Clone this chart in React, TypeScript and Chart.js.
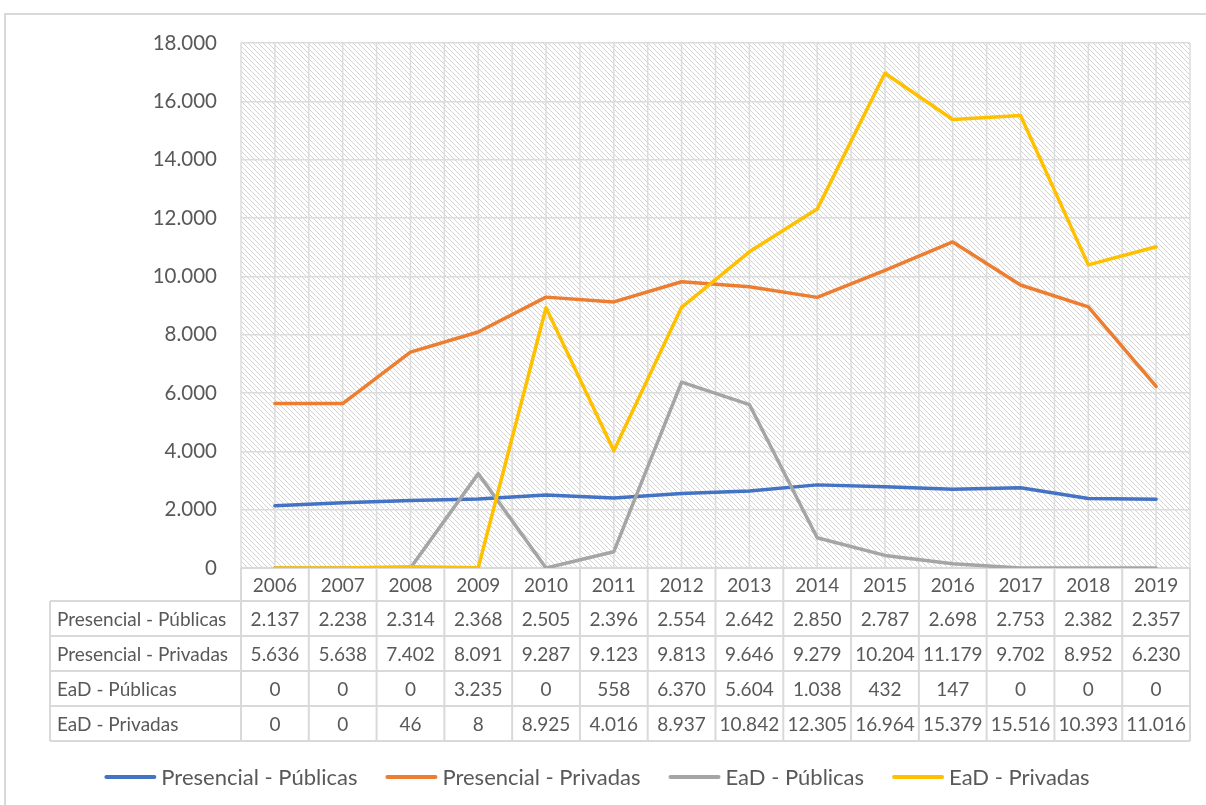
import { useEffect, useRef } from "react";
import { Chart, registerables } from "chart.js";

Chart.register(...registerables);

// Categories and series values
const years = ["2006", "2007", "2008", "2009", "2010", "2011", "2012", "2013", "2014", "2015", "2016", "2017", "2018", "2019"];
const presencialPublicas = [2137, 2238, 2314, 2368, 2505, 2396, 2554, 2642, 2850, 2787, 2698, 2753, 2382, 2357];
const presencialPrivadas = [5636, 5638, 7402, 8091, 9287, 9123, 9813, 9646, 9279, 10204, 11179, 9702, 8952, 6230];
const eadPublicas = [0, 0, 0, 3235, 0, 558, 6370, 5604, 1038, 432, 147, 0, 0, 0];
const eadPrivadas = [0, 0, 46, 8, 8925, 4016, 8937, 10842, 12305, 16964, 15379, 15516, 10393, 11016];

const seriesNames = ["Presencial - Públicas", "Presencial - Privadas", "EaD - Públicas", "EaD - Privadas"];
const seriesValues = [presencialPublicas, presencialPrivadas, eadPublicas, eadPrivadas];
const seriesColors = ["#4472C4", "#ED7D31", "#A5A5A5", "#FFC000"];

// Value axis
const yMin = 0;
const yMax = 18000;
const yStep = 2000;

const FONT = "Lato";
const TEXT = "#595959";
const RULE = "#D9D9D9";
const GRID = "#DCDCDC";

const fmt = (v: number) => String(v).replace(/\B(?=(\d{3})+(?!\d))/g, ".");

function makeHatch(ctx: CanvasRenderingContext2D): CanvasPattern | string {
  const tile = document.createElement("canvas");
  const n = 5;
  tile.width = n;
  tile.height = n;
  const t = tile.getContext("2d");
  if (!t) return "#fff";
  t.fillStyle = "#ffffff";
  t.fillRect(0, 0, n, n);
  t.fillStyle = "#D3D3D3";
  for (let i = 0; i < n; i++) t.fillRect(i, i, 1, 1);
  return ctx.createPattern(tile, "repeat") || "#fff";
}

const HEADER_H = 33;
const ROW_H = 35;
const LABEL_LEFT = 50;

const sheetPlugin = {
  id: "sheet",
  beforeDraw(chart: any) {
    const { ctx, chartArea: a, width, height } = chart;
    ctx.save();
    ctx.fillStyle = "#ffffff";
    ctx.fillRect(0, 0, width, height);
    // outer frame
    ctx.fillStyle = RULE;
    ctx.fillRect(4, 13, width - 4, 2);
    ctx.fillRect(4, 13, 2, height - 13);
    // patterned plot area
    ctx.fillStyle = makeHatch(ctx);
    ctx.fillRect(a.left, a.top, a.right - a.left, a.bottom - a.top);
    // vertical grid every half category
    const x = chart.scales.x;
    const step = x.getPixelForValue(1) - x.getPixelForValue(0);
    const left = x.getPixelForValue(0) - step / 2;
    ctx.strokeStyle = GRID;
    ctx.lineWidth = 1.5;
    for (let k = 0; k <= years.length * 2; k++) {
      const px = left + (k * step) / 2;
      ctx.beginPath();
      ctx.moveTo(px, a.top);
      ctx.lineTo(px, a.bottom);
      ctx.stroke();
    }
    ctx.restore();
  },
  beforeDatasetsDraw(chart: any) {
    const { ctx, chartArea: a } = chart;
    const x = chart.scales.x;
    const step = x.getPixelForValue(1) - x.getPixelForValue(0);
    const left = x.getPixelForValue(0) - step / 2;
    const right = left + step * years.length;
    const top = a.bottom;
    const rowTops = [top + HEADER_H];
    for (let r = 1; r <= seriesNames.length; r++) rowTops.push(top + HEADER_H + r * ROW_H);
    const bottom = rowTops[rowTops.length - 1];

    ctx.save();
    ctx.strokeStyle = RULE;
    ctx.lineWidth = 2;
    const hl = (x0: number, x1: number, y: number) => {
      ctx.beginPath();
      ctx.moveTo(x0, y);
      ctx.lineTo(x1, y);
      ctx.stroke();
    };
    const vl = (xx: number, y0: number, y1: number) => {
      ctx.beginPath();
      ctx.moveTo(xx, y0);
      ctx.lineTo(xx, y1);
      ctx.stroke();
    };
    hl(left, right, top);
    rowTops.forEach((y) => hl(LABEL_LEFT, right, y));
    for (let i = 0; i <= years.length; i++) vl(left + i * step, top, bottom);
    vl(LABEL_LEFT, rowTops[0], bottom);

    ctx.fillStyle = TEXT;
    ctx.textBaseline = "middle";
    ctx.font = `19px ${FONT}`;
    ctx.textAlign = "center";
    years.forEach((yr, i) => ctx.fillText(yr, x.getPixelForValue(i), top + HEADER_H / 2 + 1));
    seriesValues.forEach((vals, r) => {
      const cy = rowTops[r] + ROW_H / 2 + 1;
      vals.forEach((v, i) => ctx.fillText(fmt(v), x.getPixelForValue(i), cy));
    });
    ctx.textAlign = "left";
    seriesNames.forEach((name, r) => ctx.fillText(name, LABEL_LEFT + 7, rowTops[r] + ROW_H / 2 + 1));
    ctx.restore();
  },
  afterDraw(chart: any) {
    const { ctx } = chart;
    ctx.save();
    ctx.font = `22px ${FONT}`;
    const lineLen = 52;
    const gap = 5;
    const spacing = 28;
    const widths = seriesNames.map((n) => ctx.measureText(n).width);
    const total = widths.reduce((s, w) => s + lineLen + gap + w, 0) + spacing * (seriesNames.length - 1);
    let cx = 597 - total / 2;
    const ly = 777;
    ctx.textBaseline = "middle";
    ctx.textAlign = "left";
    seriesNames.forEach((name, i) => {
      ctx.strokeStyle = seriesColors[i];
      ctx.lineWidth = 4;
      ctx.lineCap = "round";
      ctx.beginPath();
      ctx.moveTo(cx + 2, ly);
      ctx.lineTo(cx + lineLen - 2, ly);
      ctx.stroke();
      ctx.fillStyle = TEXT;
      ctx.fillText(name, cx + lineLen + gap, ly + 1);
      cx += lineLen + gap + widths[i] + spacing;
    });
    ctx.restore();
  },
};

export default function App() {
  const ref = useRef<HTMLCanvasElement | null>(null);

  useEffect(() => {
    const canvas = ref.current;
    if (!canvas) return;
    const chart = new Chart(canvas, {
      type: "line",
      data: {
        labels: years,
        datasets: seriesNames.map((name, i) => ({
          label: name,
          data: seriesValues[i],
          borderColor: seriesColors[i],
          backgroundColor: seriesColors[i],
          borderWidth: 3.5,
          borderJoinStyle: "round" as const,
          borderCapStyle: "round" as const,
          pointRadius: 0,
          pointHoverRadius: 0,
          tension: 0,
          fill: false,
          order: seriesNames.length - i,
        })),
      },
      options: {
        responsive: false,
        animation: false,
        devicePixelRatio: 1,
        layout: { padding: { left: 0, top: 43, right: 16, bottom: 0 } },
        plugins: {
          legend: { display: false },
          tooltip: { enabled: false },
        },
        scales: {
          x: {
            type: "category",
            offset: true,
            grid: { display: false },
            border: { display: false },
            ticks: { display: false },
            afterFit: (scale: any) => {
              scale.height = 237;
            },
          },
          y: {
            min: yMin,
            max: yMax,
            border: { display: false },
            grid: { color: GRID, lineWidth: 1.5, drawTicks: false },
            ticks: {
              stepSize: yStep,
              padding: 24,
              color: TEXT,
              font: { family: FONT, size: 20.5 },
              callback: (v: any) => fmt(Number(v)),
            },
            afterFit: (scale: any) => {
              scale.width = 241;
            },
          },
        },
      },
      plugins: [sheetPlugin],
    });
    let alive = true;
    if (document.fonts && document.fonts.load) {
      Promise.all([document.fonts.load(`19px ${FONT}`), document.fonts.load(`22px ${FONT}`)]).then(() => {
        if (alive) chart.update();
      });
    }
    return () => {
      alive = false;
      chart.destroy();
    };
  }, []);

  return (
    <div style={{ position: "fixed", left: 0, top: 0, width: 1206, height: 805, background: "#fff" }}>
      <canvas ref={ref} width={1206} height={805} style={{ width: 1206, height: 805, display: "block" }} />
    </div>
  );
}
